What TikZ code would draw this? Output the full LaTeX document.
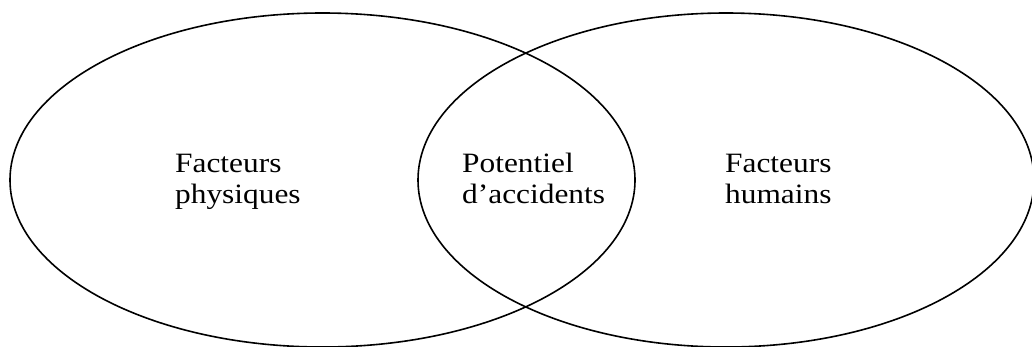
\documentclass[tikz,border=0pt]{standalone}
\usepackage{fontspec}
\setmainfont{Liberation Serif}[FakeStretch=1.12, Kerning=Off]
\usetikzlibrary{shapes.geometric}
\tikzset{
  setring/.style={ellipse, draw=black, line width=1.6pt, inner sep=0pt, outer sep=0pt},
  label/.style={align=left, inner sep=0pt, font=\fontsize{28}{31.5}\selectfont, anchor=base west}
}
\begin{document}
\begin{tikzpicture}[x=1pt,y=-1pt]
\useasboundingbox (0,0) rectangle (1032,346);
\clip (0,0) rectangle (1032,346);
\fill[white] (0,0) rectangle (1032,346);
\node[setring, minimum width=625pt, minimum height=334pt] (left) at (322.5,180) {};
\node[setring, minimum width=616pt, minimum height=334pt] (right) at (726,180) {};
\node[label] (phys) at (175,203.5) {Facteurs\\physiques};
\node[label] (pot) at (462,203.5) {Potentiel\\d’accidents};
\node[label] (hum) at (725,203.5) {Facteurs\\humains};
\end{tikzpicture}
\end{document}
